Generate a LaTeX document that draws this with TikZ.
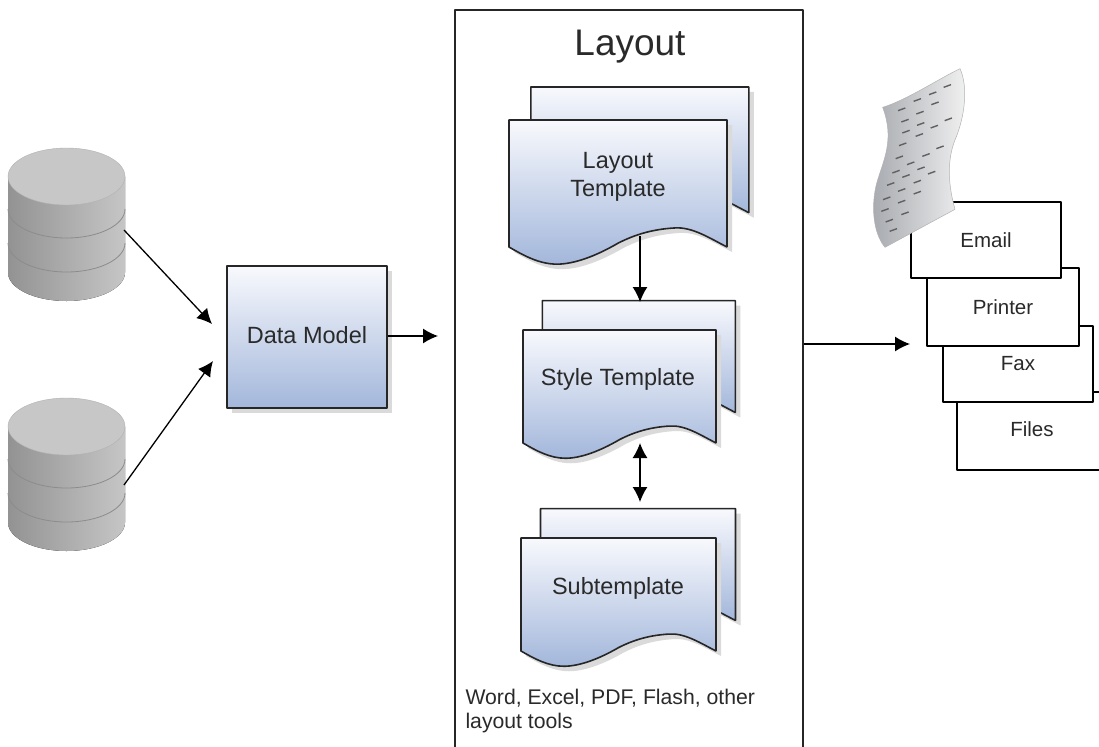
\documentclass[tikz,border=0pt]{standalone}
\usepackage{fontspec}
\setmainfont{Liberation Sans}
\usepackage{tikz}
\usetikzlibrary{arrows.meta}
\definecolor{docTop}{HTML}{F8F9FD}
\definecolor{docBottom}{HTML}{A3B7DB}
\definecolor{softShadow}{HTML}{DADADA}
\definecolor{inkText}{HTML}{2A2A2A}
\definecolor{inkLine}{HTML}{262626}
\definecolor{scrollDark}{HTML}{A6A9AE}
\definecolor{scrollMid}{HTML}{B6B9BD}
\definecolor{scrollLight}{HTML}{F2F2F2}
\newcommand{\docfront}{(0,0) -- (1,0) -- (1,1) .. controls (.92,.93) and (.84,.84) .. (.76,.85) .. controls (.66,.86) and (.58,.9) .. (.5,.97) .. controls (.4,1.07) and (.3,1.135) .. (.22,1.135) .. controls (.14,1.135) and (.07,1.07) .. (0,1) -- cycle}
\newcommand{\templatedoc}[4]{%
  \begin{scope}[shift={(#1bp,#2bp)},x=#3bp,y=#4bp]
    \fill [softShadow,shift={(5bp,5bp)}] (.1,-.26) -- (1.1,-.26) -- (1.1,.73) -- (1,.64) -- (0,.64) -- cycle;
    \draw [docline,top color=docTop,bottom color=docBottom] (.1,-.26) -- (1.1,-.26) -- (1.1,.73) -- (1,.64) -- (.1,.64) -- cycle;
    \fill [softShadow,shift={(5bp,5bp)}] \docfront;
    \draw [docline,top color=docTop,bottom color=docBottom] \docfront;
  \end{scope}}
\newcommand{\dbstack}[1]{%
  \begin{scope}[shift={(0bp,#1bp)}]
    \fill [left color=gray!85,right color=gray!45] (8bp,176.5bp) -- (8bp,272.5bp) arc [start angle=180,end angle=0,x radius=58.5bp,y radius=28.5bp] -- (125bp,176.5bp) -- cycle;
    \draw [gray!90,line width=.8bp] (8bp,209bp) arc [start angle=180,end angle=0,x radius=58.5bp,y radius=29bp];
    \draw [gray!90,line width=.8bp] (8bp,243bp) arc [start angle=180,end angle=0,x radius=58.5bp,y radius=29bp];
    \draw [gray!60,fill=black!22,line width=.4bp] (66.5bp,176.5bp) ellipse [x radius=58.5bp,y radius=28.5bp];
  \end{scope}}
\begin{document}
\begin{tikzpicture}[>={Latex[length=15bp,width=15bp]},line join=bevel,yscale=-1,
  docline/.style={draw=inkLine,line width=1.6bp},
  linkline/.style={black,line width=1.3bp},
  outbox/.style={draw=black,line width=1.3bp,fill=white,text=inkText,font=\fontsize{20.5bp}{24bp}\selectfont},
  doclabel/.style={text=inkText,align=center,font=\fontsize{23.5bp}{28bp}\selectfont}]
%%
\clip (0bp,0bp) rectangle (1099bp,747bp);
\fill [white] (0bp,0bp) rectangle (1099bp,747bp);
%
\dbstack{0}
\dbstack{250}
\fill [softShadow] (232bp,271bp) rectangle (392bp,413bp);
\node (node_model) at (307bp,337bp) [draw=inkLine,line width=1.6bp,minimum width=160bp,minimum height=142bp,top color=docTop,bottom color=docBottom,doclabel,text depth=4bp] {Data Model};
\node (node_layout) at (629bp,380bp) [draw=inkLine,line width=1.3bp,minimum width=348bp,minimum height=740bp] {};
\node (node_title) at (630bp,47bp) [text=inkText,font=\fontsize{37bp}{40bp}\selectfont] {Layout};
%
\templatedoc{509}{120}{218}{127}
\templatedoc{523}{330}{193}{113}
\templatedoc{521}{538}{195}{113}
  \node (node_tpl) at (618bp,177bp) [doclabel] {Layout\\Template};
  \node (node_style) at (618bp,379bp) [doclabel] {Style Template};
  \node (node_sub) at (618bp,588bp) [doclabel] {Subtemplate};
  \node (node_tools) at (462bp,711bp) [anchor=west,align=left,text=inkText,font=\fontsize{21.2bp}{24bp}\selectfont] {Word, Excel, PDF, Flash, other\\layout tools};
%
  \node (node_files) at (1032bp,431bp) [outbox,minimum width=150bp,minimum height=78bp,text depth=4bp] {Files};
  \node (node_fax) at (1018bp,364bp) [outbox,minimum width=150bp,minimum height=76bp] {Fax};
  \node (node_printer) at (1003bp,307bp) [outbox,minimum width=152bp,minimum height=78bp] {Printer};
  \node (node_email) at (986bp,240bp) [outbox,minimum width=150bp,minimum height=76bp] {Email};
%
\begin{scope}[shift={(840bp,50bp)},x=.3333bp,y=.3333bp]
  \draw [gray!60,line width=.5bp,left color=scrollDark,middle color=scrollMid,right color=scrollLight] (128,172) .. controls (200,150) and (290,90) .. (360,56) .. controls (385,110) and (375,200) .. (345,270) .. controls (325,320) and (320,390) .. (345,478) -- (135,592) .. controls (100,550) and (92,470) .. (110,400) .. controls (130,330) and (165,270) .. (128,172) -- cycle;
  \foreach \dx/\dy in {185/178,232/150,278/130,322/108,195/212,240/188,285/160,198/245,242/222,325/208,188/283,238/255,283/230,178/322,300/292,258/315,212/340,168/365,243/355,198/378,152/402,275/368,232/395,185/420,140/445,232/428,185/455,135/480,195/490,148/512,160/540}
    \draw [black!62,line width=1.4bp] (\dx-11,\dy+4) -- (\dx+11,\dy-4);
\end{scope}
%
\coordinate (db_a_out) at (124bp,230bp);
\coordinate (db_b_out) at (124bp,485bp);
\coordinate (model_in_a) at (212bp,324bp);
\coordinate (model_in_b) at (213bp,361bp);
\coordinate (layout_in) at (438bp,336bp);
\coordinate (output_in) at (910bp,344bp);
\coordinate (tpl_out) at (640bp,236bp);
\coordinate (style_top) at (640bp,302bp);
\coordinate (style_out) at (640bp,443bp);
\coordinate (sub_top) at (640bp,502bp);
  \draw [linkline,->] (db_a_out) -- (model_in_a);
  \draw [linkline,->] (db_b_out) -- (model_in_b);
  \draw [linkline,->] (node_model.east |- layout_in) -- (layout_in);
  \draw [linkline,->] (node_layout.east |- output_in) -- (output_in);
  \draw [linkline,->] (tpl_out) -- (style_top);
  \draw [linkline,<->] (style_out) -- (sub_top);
%
\end{tikzpicture}
\end{document}
